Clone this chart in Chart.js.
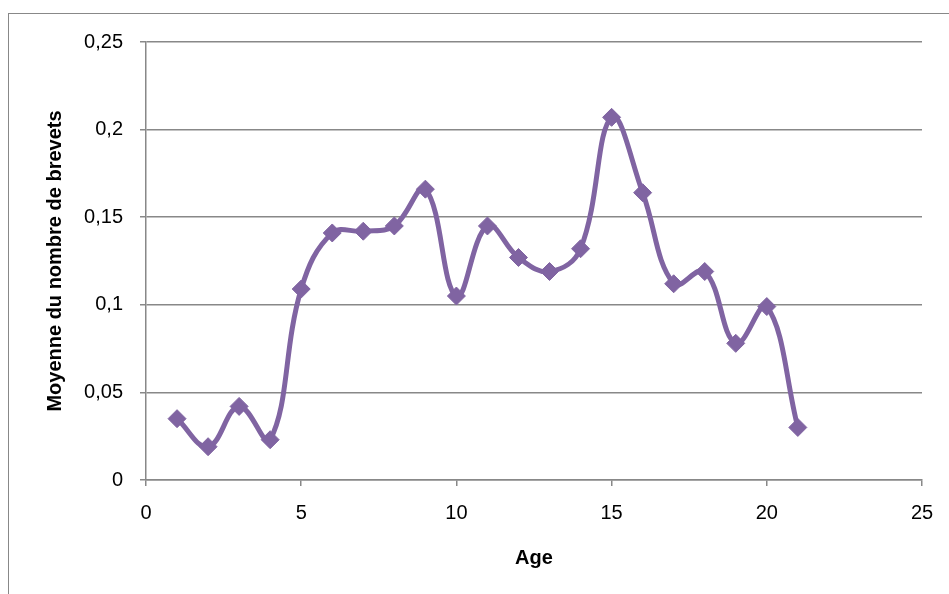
<!DOCTYPE html>
<html>
<head>
<meta charset="utf-8">
<script src="https://cdn.jsdelivr.net/npm/chart.js@4/dist/chart.umd.min.js"></script>
<style>
  body { margin: 0; background: #fff; }
  #wrap { position: relative; width: 949px; height: 594px; overflow: hidden; }
  #frame { position: absolute; left: 8px; top: 13px; width: 1000px; height: 1000px;
           border-left: 1px solid #888; border-top: 1px solid #888; }
  #chart { position: absolute; left: 0; top: 0; }
</style>
</head>
<body>
<div id="wrap">
  <div id="frame"></div>
  <canvas id="chart" width="949" height="594"></canvas>
</div>
<script>
// data
const ages = [1, 2, 3, 4, 5, 6, 7, 8, 9, 10, 11, 12, 13, 14, 15, 16, 17, 18, 19, 20, 21];
const meanPatents = [0.035, 0.019, 0.042, 0.023, 0.109, 0.141, 0.142, 0.145, 0.166, 0.105, 0.145,
                     0.127, 0.119, 0.132, 0.207, 0.164, 0.112, 0.119, 0.078, 0.099, 0.030];
const yTickLabels = ['0', '0,05', '0,1', '0,15', '0,2', '0,25'];
const xTickLabels = ['0', '5', '10', '15', '20', '25'];

const purple = '#8064A2';
const gridGrey = '#888888';
const font = { family: 'Arial, "Liberation Sans", sans-serif', size: 20 };
const boldFont = { family: 'Arial, "Liberation Sans", sans-serif', size: 20, weight: 'bold' };

const points = ages.map((a, i) => ({ x: a, y: meanPatents[i] }));

new Chart(document.getElementById('chart'), {
  type: 'line',
  data: {
    datasets: [{
      data: points,
      borderColor: purple,
      backgroundColor: purple,
      borderWidth: 5,
      tension: 0.4,
      pointStyle: 'rectRot',
      pointRadius: 9,
      pointBorderWidth: 1,
      pointBackgroundColor: purple,
      pointBorderColor: purple,
      clip: false,
    }],
  },
  options: {
    responsive: false,
    animation: false,
    layout: { padding: { left: 0, top: 42, right: 27, bottom: 0 } },
    plugins: {
      legend: { display: false },
      tooltip: { enabled: false },
    },
    scales: {
      x: {
        type: 'linear',
        min: 0,
        max: 25,
        afterFit: (scale) => { scale.height = 114; },
        ticks: {
          stepSize: 5,
          color: '#000',
          font: font,
          padding: 15,
          maxRotation: 0,
          callback: (v) => xTickLabels[v / 5],
        },
        grid: { drawOnChartArea: false, drawTicks: true, tickLength: 6, color: gridGrey, lineWidth: 1.5 },
        border: { display: true, color: gridGrey, width: 1.5 },
        title: { display: true, text: 'Age', color: '#000', font: boldFont, padding: { top: 0, bottom: 24 } },
      },
      y: {
        min: 0,
        max: 0.25,
        afterFit: (scale) => { scale.width = 146; },
        ticks: {
          stepSize: 0.05,
          color: '#000',
          font: font,
          padding: 17,
          callback: (v) => yTickLabels[Math.round(v / 0.05)],
        },
        grid: { drawTicks: true, tickLength: 6, color: gridGrey, lineWidth: 1.5 },
        border: { display: true, color: gridGrey, width: 1.5 },
        title: { display: true, text: 'Moyenne du nombre de brevets', color: '#000', font: boldFont, padding: { top: 43, bottom: 0 } },
      },
    },
  },
});
</script>
</body>
</html>
